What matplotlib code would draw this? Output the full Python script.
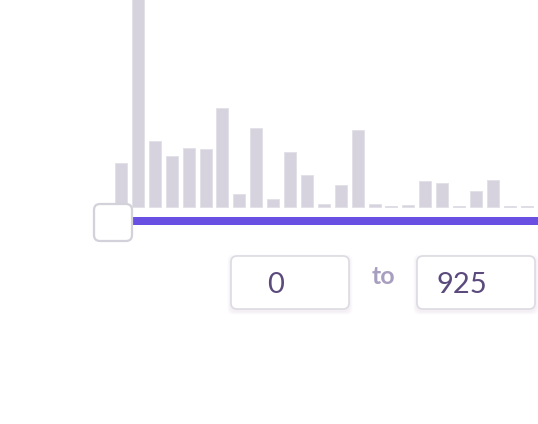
import numpy as np
import matplotlib
matplotlib.use('Agg')
import matplotlib.pyplot as plt
from matplotlib.patches import FancyBboxPatch, Rectangle

# histogram counts (pixel heights)
counts = [44, 230, 66, 51, 59, 58, 99, 13, 79, 8, 55, 32, 3, 22, 77, 3, 1, 2, 26, 24, 1, 16, 27, 1, 1, 8]
range_min = '0'
range_max = '925'

W, H = 538, 424
fig = plt.figure(figsize=(W/100, H/100), dpi=100)
ax = fig.add_axes([0, 0, 1, 1])
ax.set_xlim(0, W)
ax.set_ylim(H, 0)
ax.axis('off')

base = 207
x0, pitch, bw = 115, 16.9, 12
xs = x0 + pitch*np.arange(len(counts))
hs = np.array(counts, dtype=float)
cols = ['#a9a6b3' if h <= 1 else '#d6d3de' for h in hs]
ax.bar(xs, -np.maximum(hs, 1), width=bw, bottom=base, align='edge', color=cols,
       edgecolor='#e2e0e8', linewidth=0.6, zorder=2)

# slider track
ax.add_patch(Rectangle((120, 217), W-120, 8, color='#6a50e2', zorder=3, lw=0))
# handle
ax.add_patch(FancyBboxPatch((94, 204), 38, 37, boxstyle='round,pad=0,rounding_size=6',
                            fc='white', ec='#d3d1da', lw=1.6, zorder=4))

# input boxes
def box(x, y, w, h):
    for k in range(6, 0, -1):
        ax.add_patch(FancyBboxPatch((x-k*0.6, y+2-k*0.6), w+k*1.2, h+k*1.2,
                                    boxstyle='round,pad=0,rounding_size=6',
                                    fc='#5a4a80', ec='none', alpha=0.012, zorder=4))
    ax.add_patch(FancyBboxPatch((x, y), w, h, boxstyle='round,pad=0,rounding_size=6',
                                fc='white', ec='#dcdbe2', lw=1.2, zorder=5))

box(231, 256, 118, 53)
box(417, 256, 118, 53)

ax.text(276, 285, range_min, ha='center', va='center', fontsize=21, color='#5b4a7c',
        family='Lato', zorder=6)
ax.text(436, 285, range_max, ha='left', va='center', fontsize=21, color='#5b4a7c',
        family='Lato', zorder=6)
ax.text(383, 277, 'to', ha='center', va='center', fontsize=18, color='#a89ebf',
        family='Lato', fontweight='bold', zorder=6)

fig.savefig('out.png', dpi=100)
